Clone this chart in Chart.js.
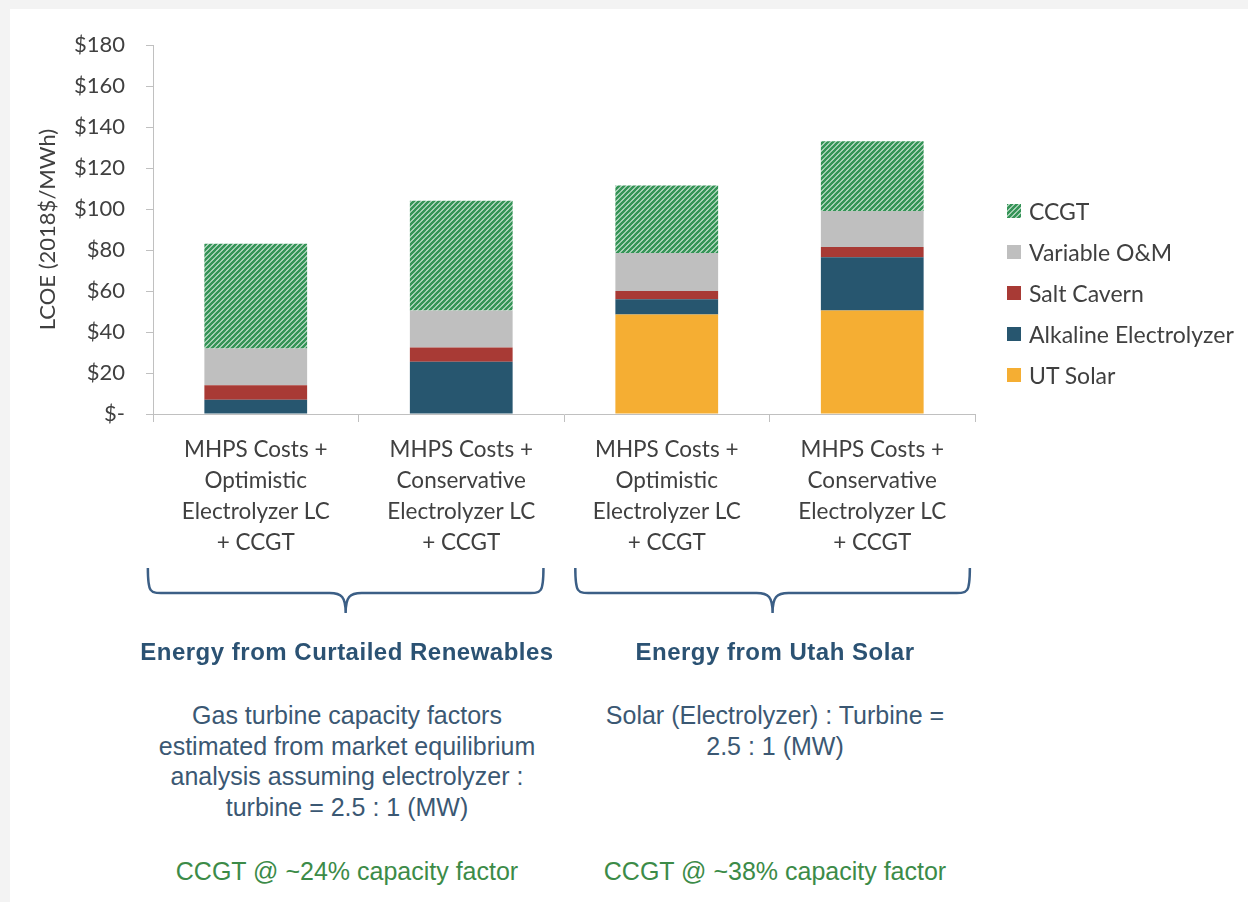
<!DOCTYPE html>
<html lang="en">
<head>
  <meta charset="UTF-8">
  <title>LCOE stacked bars</title>
  <script src="https://cdn.jsdelivr.net/npm/chart.js@4.4.1/dist/chart.umd.min.js"></script>
  <style>
    body { margin: 0; background: #f3f3f3; }
    .page { position: absolute; left: 10px; top: 9px; width: 1238px; height: 893px; background: #fff; }
    .chart-box { position: absolute; left: 0; top: 0; width: 1248px; height: 640px; }
    .legend { position: absolute; left: 1007px; top: 190px; font-family: Lato, "Open Sans", sans-serif; font-size: 23px; color: #404040; }
    .legend div { height: 41.2px; display: flex; align-items: center; }
    .legend canvas { width: 14px; height: 14px; margin-right: 8px; }
    .note { position: absolute; text-align: center; font-family: "Liberation Sans", Arial, sans-serif; }
    .head { font-weight: bold; font-size: 24px; letter-spacing: 0.5px; color: #2b5273; line-height: 30px; }
    .body { font-size: 25px; color: #3b5873; line-height: 30.5px; }
    .green { font-size: 25px; color: #3c8b48; line-height: 30px; }
  </style>
</head>
<body>
<div class="page"></div>
<div class="chart-box"><canvas id="chart"></canvas></div>
<div class="legend" id="legend"></div>

<div class="note head" style="left:97px; top:637px; width:500px;">Energy from Curtailed Renewables</div>
<div class="note body" style="left:97px; top:700px; width:500px;">Gas turbine capacity factors<br>estimated from market equilibrium<br>analysis assuming electrolyzer :<br>turbine = 2.5 : 1 (MW)</div>
<div class="note green" style="left:97px; top:856px; width:500px;">CCGT @ ~24% capacity factor</div>

<div class="note head" style="left:525px; top:637px; width:500px;">Energy from Utah Solar</div>
<div class="note body" style="left:525px; top:700px; width:500px;">Solar (Electrolyzer) : Turbine =<br>2.5 : 1 (MW)</div>
<div class="note green" style="left:525px; top:856px; width:500px;">CCGT @ ~38% capacity factor</div>

<script>
  const categories = [
    ['MHPS Costs +', 'Optimistic', 'Electrolyzer LC', '+ CCGT'],
    ['MHPS Costs +', 'Conservative', 'Electrolyzer LC', '+ CCGT'],
    ['MHPS Costs +', 'Optimistic', 'Electrolyzer LC', '+ CCGT'],
    ['MHPS Costs +', 'Conservative', 'Electrolyzer LC', '+ CCGT']
  ];
  const utSolar = [0, 0, 48.5, 50.5];
  const alkalineElectrolyzer = [7, 25.5, 7.5, 26];
  const saltCavern = [7, 7, 4, 5];
  const variableOM = [18, 18, 18.5, 17.5];
  const ccgt = [51, 53.5, 33, 34];
  const yTicks = [0, 20, 40, 60, 80, 100, 120, 140, 160, 180];

  function hatch() {
    const s = 5;
    const c = document.createElement('canvas');
    c.width = c.height = s;
    const x = c.getContext('2d');
    x.fillStyle = '#ffffff';
    x.fillRect(0, 0, s, s);
    x.strokeStyle = '#359457';
    x.lineWidth = 2.7;
    x.beginPath();
    x.moveTo(-1, 1); x.lineTo(1, -1);
    x.moveTo(0, s); x.lineTo(s, 0);
    x.moveTo(s - 1, s + 1); x.lineTo(s + 1, s - 1);
    x.stroke();
    return x.createPattern(c, 'repeat');
  }
  const ccgtFill = hatch();

  // curly braces under the two groups of bars
  const bracePlugin = {
    id: 'braces',
    afterDraw(chart) {
      const ctx = chart.ctx;
      const xs = chart.scales.x;
      const step = xs.getPixelForValue(1) - xs.getPixelForValue(0);
      const spans = [[-0.525, 1.4], [1.555, 3.475]];
      const top = 568, mid = 593, tip = 613;
      ctx.save();
      ctx.strokeStyle = '#3c5f86';
      ctx.lineWidth = 2.5;
      spans.forEach(([a, b]) => {
        const l = xs.getPixelForValue(0) + a * step;
        const r = xs.getPixelForValue(0) + b * step;
        const c = (l + r) / 2;
        ctx.beginPath();
        ctx.moveTo(l, top);
        ctx.bezierCurveTo(l, mid, l + 2, mid, l + 16, mid);
        ctx.lineTo(c - 16, mid);
        ctx.bezierCurveTo(c - 4, mid, c, mid + 4, c, tip);
        ctx.moveTo(r, top);
        ctx.bezierCurveTo(r, mid, r - 2, mid, r - 16, mid);
        ctx.lineTo(c + 16, mid);
        ctx.bezierCurveTo(c + 4, mid, c, mid + 4, c, tip);
        ctx.stroke();
      });
      ctx.restore();
    }
  };

  const chart = new Chart(document.getElementById('chart'), {
    type: 'bar',
    data: {
      labels: categories,
      datasets: [
        { label: 'UT Solar', data: utSolar, backgroundColor: '#f5ae33' },
        { label: 'Alkaline Electrolyzer', data: alkalineElectrolyzer, backgroundColor: '#27566f' },
        { label: 'Salt Cavern', data: saltCavern, backgroundColor: '#a83a35' },
        { label: 'Variable O&M', data: variableOM, backgroundColor: '#bfbfbf' },
        { label: 'CCGT', data: ccgt, backgroundColor: ccgtFill }
      ]
    },
    options: {
      responsive: true,
      maintainAspectRatio: false,
      animation: false,
      barPercentage: 1,
      categoryPercentage: 0.5,
      layout: { padding: { left: 33, right: 273, top: 45, bottom: 76 } },
      plugins: { legend: { display: false }, tooltip: { enabled: false } },
      scales: {
        x: {
          stacked: true,
          border: { color: '#c0c0c0' },
          grid: { offset: true, drawOnChartArea: false, drawTicks: true, tickLength: 8, color: '#c0c0c0' },
          ticks: { color: '#404040', padding: 12, maxRotation: 0, autoSkip: false,
                   font: { family: 'Lato', size: 22.5, lineHeight: 1.38 } },
          afterFit(scale) { scale.height = 150; }
        },
        y: {
          stacked: true,
          min: 0,
          max: 180,
          border: { color: '#c0c0c0' },
          grid: { drawOnChartArea: false, drawTicks: true, tickLength: 7, color: '#c0c0c0' },
          afterBuildTicks(scale) { scale.ticks = yTicks.map(v => ({ value: v })); },
          ticks: { color: '#404040', padding: 21, font: { family: 'Lato', size: 22 },
                   callback: v => v === 0 ? '$-' : '$' + v },
          title: { display: true, text: 'LCOE (2018$/MWh)', color: '#404040',
                   font: { family: 'Lato', size: 22 }, padding: { top: 2, bottom: 4 } },
          afterFit(scale) { scale.width = 120; }
        }
      }
    },
    plugins: [bracePlugin]
  });

  // legend, top to bottom in reverse stacking order
  const legend = document.getElementById('legend');
  chart.data.datasets.slice().reverse().forEach(ds => {
    const row = document.createElement('div');
    const sw = document.createElement('canvas');
    sw.width = 14; sw.height = 14;
    const g = sw.getContext('2d');
    g.fillStyle = ds.backgroundColor;
    g.fillRect(0, 0, 14, 14);
    row.appendChild(sw);
    row.appendChild(document.createTextNode(ds.label));
    legend.appendChild(row);
  });
</script>
</body>
</html>
